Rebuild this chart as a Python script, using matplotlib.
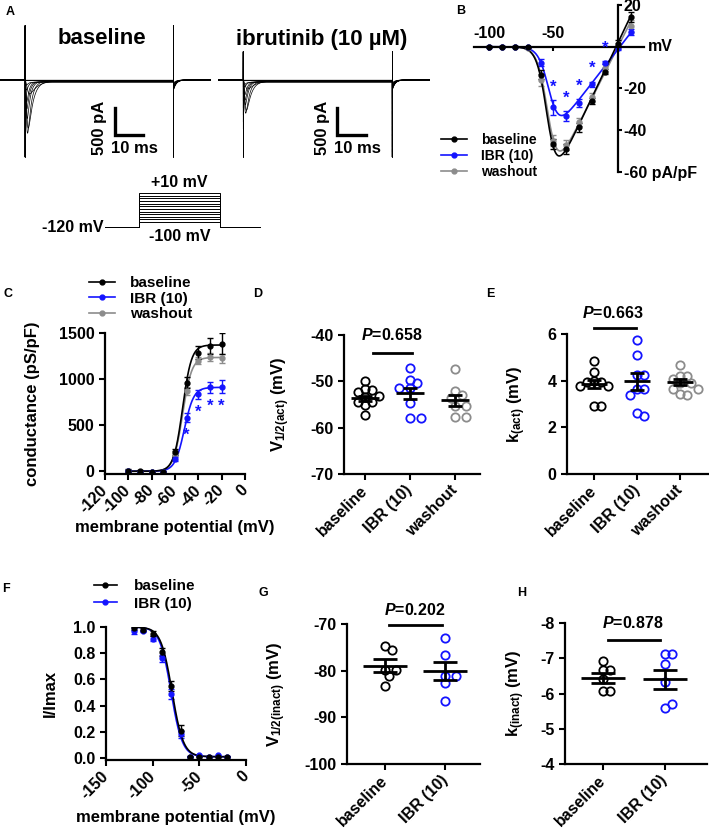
import numpy as np
import matplotlib
matplotlib.use("Agg")
from matplotlib import pyplot as plt
from matplotlib.lines import Line2D

plt.rcParams['font.family'] = ['Liberation Sans', 'DejaVu Sans']
plt.rcParams['font.weight'] = 'bold'
plt.rcParams['axes.labelweight'] = 'bold'
plt.rcParams['axes.unicode_minus'] = False
plt.rcParams['mathtext.fontset'] = 'custom'
plt.rcParams['mathtext.rm'] = 'Liberation Sans:bold'
plt.rcParams['mathtext.it'] = 'Liberation Sans:italic:bold'
plt.rcParams['mathtext.bf'] = 'Liberation Sans:bold'

BLACK = '#000000'
BLUE = '#1414ff'
GRAY = '#8c8c8c'

# ---------------- data ----------------
# A: current traces (one sweep per step potential)
sweep_mV = [-100, -90, -80, -70, -60, -50, -40, -30, -20, -10, 0, 10]
base_peak_pA = [0, 0, 0, 0, -240, -870, -960, -685, -500, -370, -150, -55]
ibr_peak_pA = [0, 0, 0, 0, -150, -540, -590, -430, -340, -240, -90, -40]
tau_m_ms = [0.3, 0.3, 0.3, 0.3, 0.6, 0.45, 0.35, 0.3, 0.25, 0.22, 0.2, 0.2]
tau_h_ms = [1.0, 1.0, 1.0, 1.0, 2.6, 1.6, 1.2, 1.0, 0.9, 0.8, 0.7, 0.6]
leak_pA = [-5, -8, -10, -14, -18, -22, -25, -28, -32, -35, -38, -42]
tail_pA = [-55, -70, -85, -100, -115, -130, -145, -155, -165, -175, -180, -185]
step_on_ms, step_off_ms = 9.0, 62.0
cap_up_base_pA, cap_up_ibr_pA, cap_down_pA = 1000, 520, -1425

# protocol
protocol_t = [0, 12, 40.5, 55]
protocol_hold = -120

# B: I-V (pA/pF)
iv_v = [-100, -90, -80, -70, -60, -50, -40, -30, -20, -10, 0, 10]
iv_base = [0, 0, 0, -0.2, -13.3, -46.7, -49.0, -38.6, -26.0, -11.9, 1.5, 14.3]
iv_base_err = [0.3, 0.3, 0.3, 0.3, 2.0, 2.5, 2.5, 2.0, 1.5, 1.2, 1.5, 2.5]
iv_ibr = [0, 0, 0, -0.3, -7.6, -29.0, -33.3, -27.0, -18.0, -7.6, -0.5, 7.0]
iv_ibr_err = [0.3, 0.3, 0.3, 0.3, 1.5, 3.5, 2.5, 2.0, 1.2, 0.8, 1.0, 1.5]
iv_wash = [0, 0, 0, -0.8, -16.0, -45.0, -47.0, -36.0, -24.0, -10.0, 0.5, 10.0]
iv_wash_err = [0.3, 0.3, 0.3, 0.5, 3.0, 2.5, 2.5, 2.0, 2.0, 1.5, 1.5, 3.0]
iv_fit_g = [1.3, 0.8, 1.22]
iv_fit_vh = [-54.5, -53.0, -54.0]
iv_fit_k = [3.8, 4.0, 3.9]
iv_fit_erev = [-1.5, 1.5, 0.0]
iv_star_v = [-50, -40, -30, -20, -10]

# C: conductance (pS/pF)
g_v = [-100, -90, -80, -70, -60, -50, -40, -30, -20]
g_base = [5, 0, -10, -10, 210, 960, 1285, 1360, 1385]
g_base_err = [15, 15, 15, 15, 35, 60, 70, 85, 110]
g_ibr = [0, -5, -10, -10, 130, 580, 835, 910, 915]
g_ibr_err = [10, 10, 10, 10, 20, 50, 50, 60, 70]
g_wash = [0, -5, -10, -10, 190, 870, 1200, 1240, 1225]
g_wash_err = [10, 10, 10, 10, 25, 40, 40, 40, 50]
g_fit_max = [1370, 910, 1235]
g_fit_vh = [-53.5, -52.0, -53.5]
g_fit_k = [3.8, 4.0, 3.9]
g_star_v = [-50, -40, -30, -20]

groups3 = ['baseline', 'IBR (10)', 'washout']
groups2 = ['baseline', 'IBR (10)']

# D: V1/2 activation
d_base = [-49.9, -51.7, -51.9, -52.4, -53.2, -53.3, -54.4, -54.4, -55.1, -57.2]
d_ibr = [-47.2, -49.7, -50.3, -51.5, -51.5, -54.7, -57.9, -57.9]
d_wash = [-47.4, -52.0, -52.9, -53.5, -55.4, -55.4, -57.6, -57.6]
d_mean = [-53.7, -52.6, -54.1]
d_sem = [0.6, 1.25, 1.2]

# E: k activation
e_base = [4.83, 4.36, 4.0, 3.93, 3.93, 3.79, 3.79, 2.93, 2.93]
e_ibr = [5.73, 5.09, 4.26, 4.26, 3.64, 3.64, 3.4, 2.5, 2.61]
e_wash = [4.69, 4.21, 4.19, 4.07, 3.9, 3.9, 3.64, 3.64, 3.43, 3.4]
e_mean = [3.85, 3.97, 3.93]
e_sem = [0.18, 0.36, 0.13]

# F: steady-state inactivation
f_v = [-120, -110, -100, -90, -80, -70, -60, -50, -40, -30, -20]
f_base = [0.99, 0.98, 0.95, 0.81, 0.55, 0.21, 0.01, 0.01, 0.01, 0.01, 0.01]
f_base_err = [0.01, 0.01, 0.02, 0.03, 0.04, 0.04, 0.005, 0.005, 0.005, 0.005, 0.005]
f_ibr = [0.97, 0.97, 0.91, 0.76, 0.49, 0.18, 0.01, 0.02, 0.01, 0.02, 0.01]
f_ibr_err = [0.02, 0.01, 0.02, 0.03, 0.04, 0.03, 0.005, 0.005, 0.005, 0.005, 0.005]
f_fit_vh = [-79.2, -80.3]
f_fit_k = [6.0, 6.0]

# G: V1/2 inactivation
g2_base = [-74.7, -75.6, -79.8, -79.8, -81.2, -83.2]
g2_ibr = [-73.1, -76.6, -81.1, -81.1, -82.7, -86.6]
g2_mean = [-78.9, -80.0]
g2_sem = [1.3, 1.9]

# H: k inactivation
h_base = [-6.92, -6.66, -6.66, -6.42, -6.07, -6.07]
h_ibr = [-7.11, -7.11, -6.85, -6.33, -5.59, -5.70]
h_mean = [-6.44, -6.41]
h_sem = [0.14, 0.27]

# ---------------- layout helpers ----------------
W, H = 709, 832
fig = plt.figure(figsize=(W / 100, H / 100), dpi=100)


def px_axes(left, top, right, bottom):
    return fig.add_axes([left / W, 1 - bottom / H, (right - left) / W, (bottom - top) / H])


def style_axes(ax, fs=11.5):
    for s in ['top', 'right']:
        ax.spines[s].set_visible(False)
    for s in ['left', 'bottom']:
        ax.spines[s].set_linewidth(1.6)
    ax.tick_params(width=1.5, length=4, labelsize=fs)


def rotate_xlabels(ax, fs=11.5):
    for lab in ax.get_xticklabels():
        lab.set_rotation(45)
        lab.set_ha('right')
        lab.set_va('center')
        lab.set_rotation_mode('anchor')
        lab.set_fontsize(fs)
    ax.tick_params(axis='x', pad=6)


def letter(x, y, s):
    fig.text(x / W, 1 - y / H, s, fontsize=9, fontweight='bold', ha='center', va='center')


def swarm(ax, xc, vals, diam):
    pts = ax.transData.transform(np.column_stack([np.full(len(vals), xc), vals]))
    order = np.argsort(vals)[::-1]
    placed = []
    out = np.zeros((len(vals), 2))
    cands = [0.0]
    for j in range(1, 20):
        cands += [j * diam * 0.5, -j * diam * 0.5]
    for i in order:
        px, py = pts[i]
        for c in cands:
            if all((px + c - qx) ** 2 + (py - qy) ** 2 >= diam ** 2 for qx, qy in placed):
                break
        placed.append((px + c, py))
        out[i] = (px + c, py)
    return ax.transData.inverted().transform(out)[:, 0]


def scatter_panel(ax, data, colors, means, sems, mean_half, cap_px):
    for i, (vals, col) in enumerate(zip(data, colors)):
        xs = swarm(ax, i, vals, 7.2)
        ax.plot(xs, vals, 'o', ms=6, mfc='none', mec=col, mew=1.3, zorder=3)
        ax.hlines(means[i], i - mean_half, i + mean_half, color=BLACK, lw=2, zorder=4)
        ax.errorbar(i, means[i], yerr=sems[i], fmt='none', ecolor=BLACK, elinewidth=2,
                    capsize=cap_px / 1.389, capthick=2, zorder=4)


def p_bar(ax, x0, x1, y, tx, ty, txt):
    ax.plot([x0, x1], [y, y], color=BLACK, lw=2, clip_on=False)
    ax.text(tx, ty, r'$P$' + txt, ha='center', va='center', fontsize=11.5, clip_on=False)


# ---------------- A: traces ----------------
t = np.arange(0, 75.5, 0.02)


def sweep_trace(peak, tm, th, leak, tail, cap_up):
    cur = np.zeros_like(t)
    on = (t >= step_on_ms) & (t < step_off_ms)
    s = t[on] - step_on_ms
    shape = (1 - np.exp(-s / tm)) ** 3 * np.exp(-s / th)
    cur[on] = peak * shape / shape.max() + leak
    post = t >= step_off_ms
    cur[post] = tail * np.exp(-(t[post] - step_off_ms) / 1.0)
    i_on = np.searchsorted(t, step_on_ms)
    i_off = np.searchsorted(t, step_off_ms)
    cur[i_on] = cap_up
    cur[i_on + 1] = cap_down_pA
    cur[i_off] = cap_down_pA
    cur[i_off + 1] = cap_up
    return cur


def trace_axes(ax, peaks, cap_up, bar_x):
    for k in range(len(sweep_mV)):
        ax.plot(t, sweep_trace(peaks[k], tau_m_ms[k], tau_h_ms[k], leak_pA[k], tail_pA[k], cap_up),
                color=BLACK, lw=0.5)
    ax.set_xlim(0, 75.4)
    ax.set_ylim(-1480, 1200)
    ax.axis('off')
    y0 = -1017
    ax.plot([bar_x, bar_x, bar_x + 10], [y0 + 500, y0, y0], color=BLACK, lw=2.4,
            solid_joinstyle='miter')
    ax.annotate('500 pA', xy=(bar_x, y0 + 250), xytext=(-11, -5), textcoords='offset points',
                rotation=90, ha='center', va='center', fontsize=12)
    ax.annotate('10 ms', xy=(bar_x + 7, y0), xytext=(0, -10), textcoords='offset points',
                ha='center', va='center', fontsize=12)


axA1 = px_axes(0, 15, 211, 160)
trace_axes(axA1, base_peak_pA, cap_up_base_pA, 41)
axA2 = px_axes(218, 15, 430, 160)
trace_axes(axA2, ibr_peak_pA, cap_up_ibr_pA, 42.5)
fig.text(102 / W, 1 - 39 / H, 'baseline', fontsize=16, ha='center', va='center')
fig.text(322 / W, 1 - 39 / H, 'ibrutinib (10 µM)', fontsize=16, ha='center', va='center')

axP = px_axes(105, 180, 261, 235)
for v in sweep_mV:
    axP.plot([protocol_t[0], protocol_t[1], protocol_t[1], protocol_t[2], protocol_t[2], protocol_t[3]],
             [protocol_hold, protocol_hold, v, v, protocol_hold, protocol_hold], color=BLACK, lw=0.7)
axP.set_xlim(protocol_t[0], protocol_t[3])
axP.set_ylim(-149, 60)
axP.axis('off')
mid = (protocol_t[1] + protocol_t[2]) / 2
axP.annotate('+10 mV', xy=(mid, max(sweep_mV)), xytext=(0, 2), textcoords='offset points',
             ha='center', va='bottom', fontsize=11.5)
axP.annotate('-100 mV', xy=(mid, protocol_hold), xytext=(0, -1), textcoords='offset points',
             ha='center', va='top', fontsize=11.5)
axP.annotate('-120 mV', xy=(0, protocol_hold), xytext=(-1, 0), textcoords='offset points',
             ha='right', va='center', fontsize=11.5)

# ---------------- B: I-V ----------------
axB = px_axes(473.5, 5, 643.8, 172)
vv = np.linspace(-100, 10, 400)
series_b = [(iv_wash, iv_wash_err, GRAY, 2), (iv_ibr, iv_ibr_err, BLUE, 1), (iv_base, iv_base_err, BLACK, 0)]
for vals, err, col, k in series_b:
    fit = iv_fit_g[k] * (vv - iv_fit_erev[k]) / (1 + np.exp((iv_fit_vh[k] - vv) / iv_fit_k[k]))
    axB.plot(vv, fit, color=col, lw=1.2)
    axB.errorbar(iv_v, vals, yerr=err, fmt='o', ms=3.5, color=col, ecolor=col, elinewidth=1,
                 capsize=2, capthick=1)
for v in iv_star_v:
    i = iv_v.index(v)
    axB.annotate('*', xy=(v, iv_ibr[i] + iv_ibr_err[i]), xytext=(0, 4), textcoords='offset points',
                 ha='center', va='bottom', color=BLUE, fontsize=12)
axB.set_xlim(-112, 20)
axB.set_ylim(-60, 20)
axB.spines['left'].set_visible(False)
axB.spines['bottom'].set_visible(False)
axB.spines['top'].set_position(('data', 0))
axB.spines['right'].set_position(('data', 0))
axB.spines['top'].set_linewidth(1.6)
axB.spines['right'].set_linewidth(1.6)
axB.xaxis.set_ticks_position('top')
axB.yaxis.set_ticks_position('right')
axB.set_xticks([-100, -50])
axB.set_yticks([20, -20, -40, -60])
axB.set_yticklabels(['20', '-20', '-40', '-60 pA/pF'])
axB.tick_params(width=1.5, length=4, labelsize=11.5)
axB.tick_params(axis='x', length=3, direction='in', pad=4)
axB.tick_params(axis='y', length=3, pad=1)
axB.annotate('mV', xy=(1, 0), xycoords=('axes fraction', 'data'), xytext=(3, 0),
             textcoords='offset points', ha='left', va='center', fontsize=11.5)
hB = [Line2D([0], [0], color=c, marker='o', ms=3.5, lw=1.2) for c in (BLACK, BLUE, GRAY)]
fig.legend(hB, groups3, loc='upper left', bbox_to_anchor=(441 / W, 1 - 133 / H), frameon=False,
           fontsize=10, handlelength=1.9, handletextpad=1.0, labelspacing=0.15, borderpad=0,
           borderaxespad=0)

# ---------------- C: conductance ----------------
axC = px_axes(105, 333, 245, 474)
vg = np.linspace(-100, -20, 300)
series_c = [(g_wash, g_wash_err, GRAY, 2), (g_ibr, g_ibr_err, BLUE, 1), (g_base, g_base_err, BLACK, 0)]
for vals, err, col, k in series_c:
    fit = g_fit_max[k] / (1 + np.exp((g_fit_vh[k] - vg) / g_fit_k[k]))
    axC.plot(vg, fit, color=col, lw=1.2)
    axC.errorbar(g_v, vals, yerr=err, fmt='o', ms=3.5, color=col, ecolor=col, elinewidth=1,
                 capsize=2, capthick=1)
for v in g_star_v:
    i = g_v.index(v)
    axC.annotate('*', xy=(v, g_ibr[i] - g_ibr_err[i]), xytext=(0, -4), textcoords='offset points',
                 ha='center', va='top', color=BLUE, fontsize=12)
axC.set_xlim(-120, 0)
axC.set_ylim(-30, 1500)
axC.set_xticks(np.arange(-120, 1, 20))
axC.set_yticks([0, 500, 1000, 1500])
style_axes(axC)
rotate_xlabels(axC)
axC.set_xlabel('membrane potential (mV)', fontsize=12)
axC.xaxis.set_label_coords(0.5, -0.376)
axC.xaxis.label.set_va('center')
axC.set_ylabel('conductance (pS/pF)', fontsize=12)
axC.yaxis.set_label_coords(-0.464, 0.5)
fig.legend(hB, groups3, loc='upper left', bbox_to_anchor=(89 / W, 1 - 276 / H), frameon=False,
           fontsize=11, handlelength=1.7, handletextpad=1.0, labelspacing=0.1, borderpad=0,
           borderaxespad=0)

# ---------------- D: V1/2 act ----------------
axD = px_axes(344, 335, 480, 474)
axD.set_xlim(-0.47, 2.56)
axD.set_ylim(-70, -40)
scatter_panel(axD, [d_base, d_ibr, d_wash], [BLACK, BLUE, GRAY], d_mean, d_sem, 0.31, 7)
axD.set_yticks([-70, -60, -50, -40])
axD.set_xticks([0, 1, 2])
axD.set_xticklabels(groups3)
style_axes(axD)
rotate_xlabels(axD)
axD.set_ylabel(r'V$_{\mathrm{1/2(act)}}$ (mV)', fontsize=12)
axD.yaxis.set_label_coords(-0.382, 0.5)
p_bar(axD, 0.17, 1.04, -43.8, 0.6, -39.9, '=0.658')

# ---------------- E: k act ----------------
axE = px_axes(567, 334, 708, 474)
axE.set_xlim(-0.63, 2.65)
axE.set_ylim(0, 6)
scatter_panel(axE, [e_base, e_ibr, e_wash], [BLACK, BLUE, GRAY], e_mean, e_sem, 0.31, 7)
axE.set_yticks([0, 2, 4, 6])
axE.set_xticks([0, 1, 2])
axE.set_xticklabels(groups3)
style_axes(axE)
rotate_xlabels(axE)
axE.set_ylabel(r'k$_{\mathrm{(act)}}$ (mV)', fontsize=12)
axE.yaxis.set_label_coords(-0.277, 0.5)
p_bar(axE, 0.0, 0.98, 6.26, 0.44, 6.9, '=0.663')

# ---------------- F: inactivation ----------------
axF = px_axes(106, 627, 246, 760)
vf = np.linspace(-120, -20, 300)
for vals, err, col, k in [(f_ibr, f_ibr_err, BLUE, 1), (f_base, f_base_err, BLACK, 0)]:
    fit = 0.01 + 0.99 / (1 + np.exp((vf - f_fit_vh[k]) / f_fit_k[k]))
    axF.plot(vf, fit, color=col, lw=1.2)
    axF.errorbar(f_v, vals, yerr=err, fmt='o', ms=3.5, color=col, ecolor=col, elinewidth=1,
                 capsize=2, capthick=1)
axF.set_xlim(-150, 0)
axF.set_ylim(-0.015, 1.0)
axF.set_xticks([-150, -100, -50, 0])
axF.set_yticks(np.arange(0, 1.01, 0.2))
axF.set_yticklabels(['0.0', '0.2', '0.4', '0.6', '0.8', '1.0'])
style_axes(axF)
rotate_xlabels(axF)
axF.set_xlabel('membrane potential (mV)', fontsize=12)
axF.xaxis.set_label_coords(0.5, -0.43)
axF.xaxis.label.set_va('center')
axF.set_ylabel('I/Imax', fontsize=12)
axF.yaxis.set_label_coords(-0.343, 0.5)
fig.legend(hB[:2], groups2, loc='upper left', bbox_to_anchor=(94 / W, 1 - 579 / H), frameon=False,
           fontsize=11, handlelength=1.5, handletextpad=1.1, labelspacing=0.25, borderpad=0,
           borderaxespad=0)

# ---------------- G: V1/2 inact ----------------
axG = px_axes(347, 624, 480, 764)
axG.set_xlim(-0.63, 1.58)
axG.set_ylim(-100, -70)
scatter_panel(axG, [g2_base, g2_ibr], [BLACK, BLUE], g2_mean, g2_sem, 0.36, 12)
axG.set_yticks([-100, -90, -80, -70])
axG.set_xticks([0, 1])
axG.set_xticklabels(groups2)
style_axes(axG)
rotate_xlabels(axG)
axG.set_ylabel(r'V$_{\mathrm{1/2(inact)}}$ (mV)', fontsize=12)
axG.yaxis.set_label_coords(-0.444, 0.5)
p_bar(axG, 0.07, 0.95, -70.2, 0.5, -67.0, '=0.202')

# ---------------- H: k inact ----------------
axH = px_axes(565, 623, 707, 764)
axH.set_xlim(-0.61, 1.68)
axH.set_ylim(-4, -8)
scatter_panel(axH, [h_base, h_ibr], [BLACK, BLUE], h_mean, h_sem, 0.36, 12)
axH.set_yticks([-4, -5, -6, -7, -8])
axH.set_xticks([0, 1])
axH.set_xticklabels(groups2)
style_axes(axH)
rotate_xlabels(axH)
axH.set_ylabel(r'k$_{\mathrm{(inact)}}$ (mV)', fontsize=12)
axH.yaxis.set_label_coords(-0.268, 0.5)
p_bar(axH, 0.08, 0.92, -7.53, 0.48, -8.0, '=0.878')

# panel letters
for x, y, s in [(10, 12, 'A'), (461, 11, 'B'), (8, 294, 'C'), (258, 294, 'D'), (490, 294, 'E'),
                (6, 589, 'F'), (263, 593, 'G'), (522, 593, 'H')]:
    letter(x, y, s)

fig.savefig('out.png', dpi=100)
